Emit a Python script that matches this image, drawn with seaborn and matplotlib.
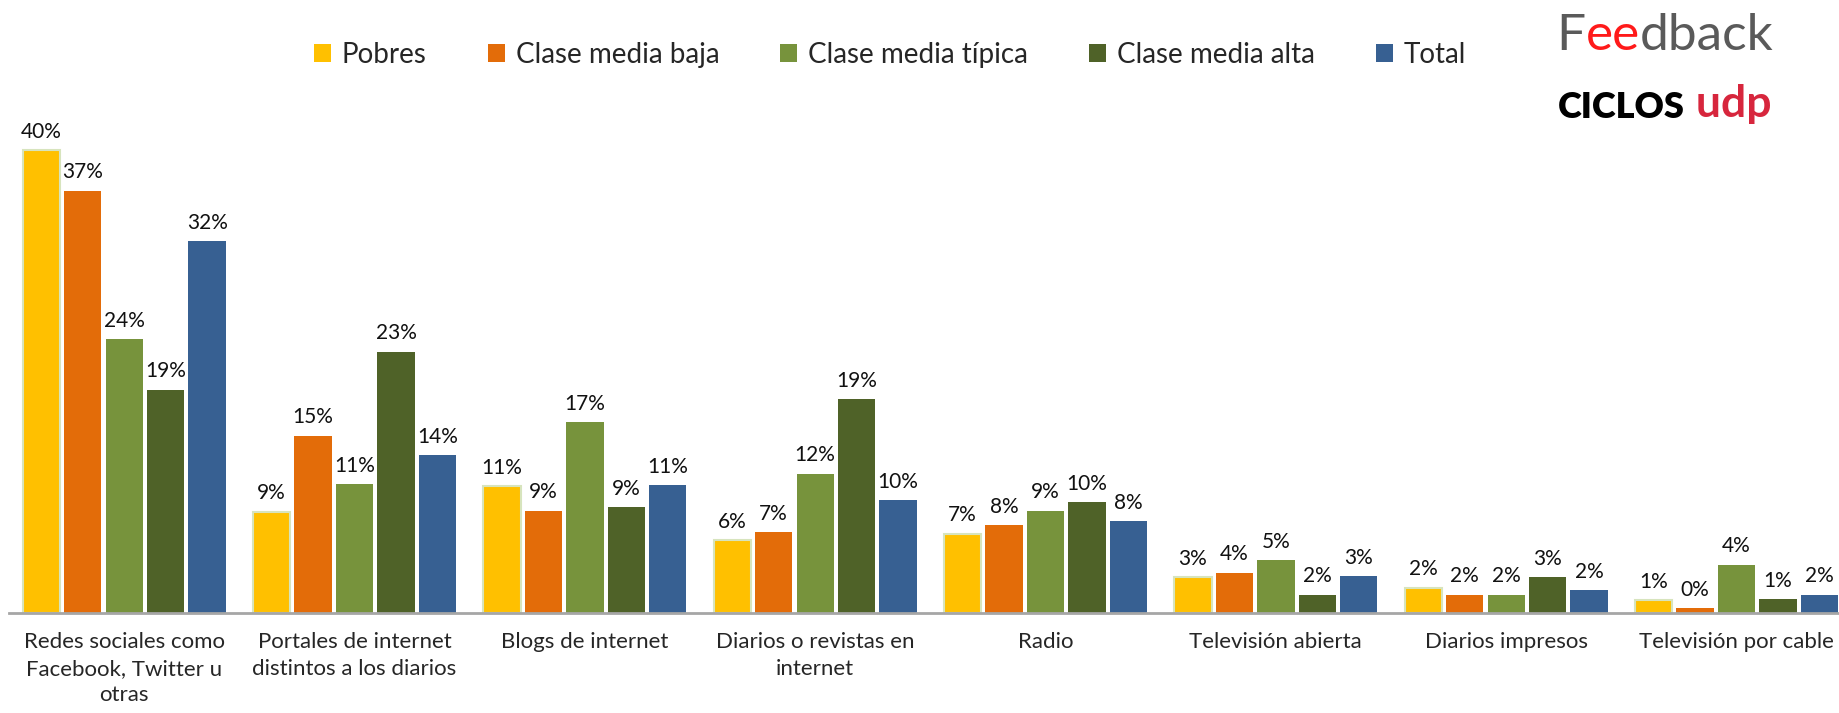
import matplotlib
matplotlib.use("Agg")
import matplotlib.pyplot as plt
from matplotlib.patches import Patch
import seaborn as sns
import pandas as pd

# --- data -------------------------------------------------------------
medios = [
    "Redes sociales como\nFacebook, Twitter u\notras",
    "Portales de internet\ndistintos a los diarios",
    "Blogs de internet",
    "Diarios o revistas en\ninternet",
    "Radio",
    "Televisión abierta",
    "Diarios impresos",
    "Televisión por cable",
]
grupos = ["Pobres", "Clase media baja", "Clase media típica", "Clase media alta", "Total"]

pobres       = [40.2, 8.8, 11.0, 6.3, 6.9, 3.1, 2.2, 1.1]
media_baja   = [36.7, 15.4, 8.9, 7.0, 7.6, 3.5, 1.6, 0.4]
media_tipica = [23.8, 11.2, 16.6, 12.1, 8.9, 4.6, 1.6, 4.2]
media_alta   = [19.4, 22.7, 9.2, 18.6, 9.6, 1.6, 3.1, 1.2]
total        = [32.3, 13.7, 11.1, 9.8, 8.0, 3.2, 2.0, 1.6]

colores = ["#FFC000", "#E36C09", "#77933C", "#4F6228", "#376092"]

series = [pobres, media_baja, media_tipica, media_alta, total]
df = pd.DataFrame(
    [(m, g, v) for g, vals in zip(grupos, series) for m, v in zip(medios, vals)],
    columns=["medio", "grupo", "valor"],
)

# --- figure -----------------------------------------------------------
sns.set_theme(style="white")
plt.rcParams["font.family"] = ["Lato", "DejaVu Sans"]

fig = plt.figure(figsize=(18.39, 7.13), dpi=100)
ax = fig.add_axes([0.0049, 0.1403, 1.002, 0.7265])

sns.barplot(
    data=df, x="medio", y="valor", hue="grupo",
    order=medios, hue_order=grupos, palette=colores,
    width=0.9, gap=0.1, linewidth=0, saturation=1,
    legend=False, ax=ax,
)

# thin pale outline around the first series
for bar in ax.containers[0]:
    bar.set_edgecolor("#D7E4BD")
    bar.set_linewidth(1.5)

ax.set_ylim(0, 45)
ax.set_xlim(-0.5, 7.5)
ax.set_xlabel("")
ax.set_ylabel("")
ax.set_yticks([])
for side in ["left", "right", "top"]:
    ax.spines[side].set_visible(False)
ax.spines["bottom"].set_color("#A6A6A6")
ax.spines["bottom"].set_linewidth(2)
ax.tick_params(axis="x", length=0, pad=14)
ax.set_xticks(range(len(medios)))
ax.set_xticklabels(medios, fontsize=16, linespacing=1.4, va="top")

for cont in ax.containers:
    ax.bar_label(cont, labels=[f"{round(b.get_height())}%" for b in cont],
                 padding=6, fontsize=15, color="#111111")

# legend across the top
handles = [Patch(facecolor=c, edgecolor="none") for c in colores]
fig.legend(handles, grupos, loc="center", bbox_to_anchor=(0.484, 0.923),
           ncol=5, frameon=False, fontsize=20, handlelength=0.6,
           handleheight=0.6, handletextpad=0.4, columnspacing=2.2)

# logos in the upper right corner
t1 = fig.text(0.8465, 0.93, "F", fontsize=37, color="#5A5A5A",
              fontweight="normal", va="baseline")
t2 = ax.annotate("ee", xy=(1, 0), xycoords=t1, va="bottom", fontsize=37,
                 color="#FF1A1A", fontweight="normal")
ax.annotate("dback", xy=(1, 0), xycoords=t2, va="bottom", fontsize=37,
            color="#5A5A5A", fontweight="normal")

c1 = fig.text(0.847, 0.835, "CICLOS", fontsize=26, color="black",
              fontweight="heavy", va="baseline")
ax.annotate(" udp", xy=(1, 0), xycoords=c1, va="bottom", fontsize=32,
            color="#D7263D", fontweight="bold")

fig.savefig("out.png", dpi=100)
